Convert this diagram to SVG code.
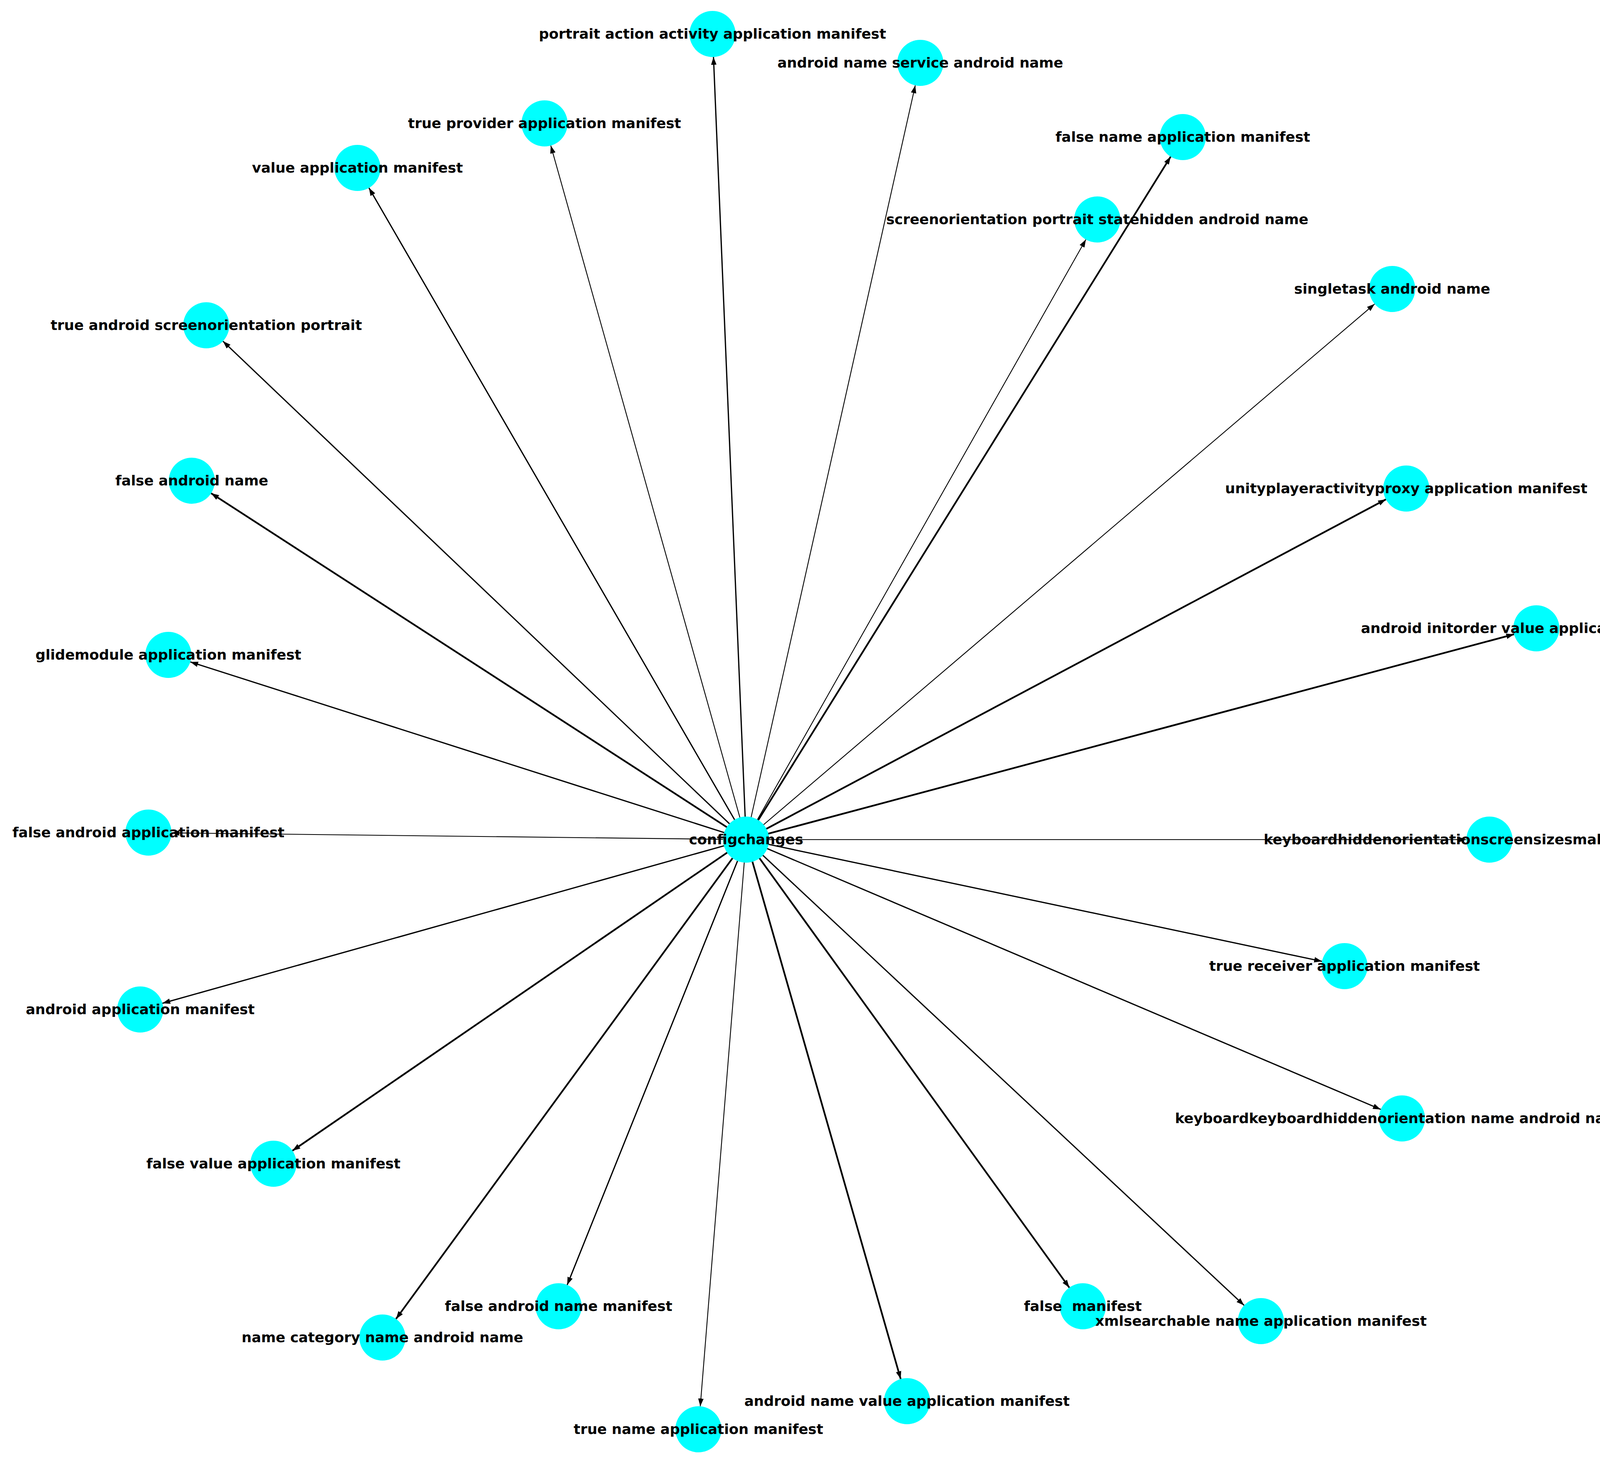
<svg xmlns="http://www.w3.org/2000/svg" width="4336" height="3754" viewBox="0 0 4336 3754">
<style>
.n{fill:#00ffff}
.t{font-family:"DejaVu Sans","Liberation Sans",sans-serif;font-weight:bold;font-size:36px;fill:#000;text-anchor:middle}
.s{text-anchor:start}
.e{stroke:#000;fill:none;marker-end:url(#ah)}
.w1{stroke-width:2.2}
.w2{stroke-width:3.2}
.w3{stroke-width:4.4}
</style>
<defs>
<marker id="ah" markerUnits="userSpaceOnUse" markerWidth="20" markerHeight="14" viewBox="0 0 20 14" refX="20" refY="7" orient="auto">
<path d="M0,0 L20,7 L0,14 Z" fill="#000"/>
</marker>
</defs>
<rect width="4336" height="3754" fill="#fff"/>
<g id="edges">
<line class="e w2" x1="1910" y1="2150" x2="1826.5" y2="145.9"/>
<line class="e w1" x1="1910" y1="2150" x2="2343.1" y2="218.6"/>
<line class="e w1" x1="1910" y1="2150" x2="1410.0" y2="372.8"/>
<line class="e w3" x1="1910" y1="2150" x2="2996.9" y2="401.1"/>
<line class="e w2" x1="1910" y1="2150" x2="944.5" y2="481.1"/>
<line class="e w1" x1="1910" y1="2150" x2="2779.9" y2="613.3"/>
<line class="e w1" x1="1910" y1="2150" x2="3519.1" y2="778.3"/>
<line class="e w2" x1="1910" y1="2150" x2="570.7" y2="873.7"/>
<line class="e w3" x1="1910" y1="2150" x2="540.5" y2="1263.1"/>
<line class="e w3" x1="1910" y1="2150" x2="3547.9" y2="1278.7"/>
<line class="e w3" x1="1910" y1="2150" x2="3876.0" y2="1624.2"/>
<line class="e w2" x1="1910" y1="2150" x2="487.2" y2="1695.0"/>
<line class="e w1" x1="1910" y1="2150" x2="439.0" y2="2132.7"/>
<line class="e w1" x1="1910" y1="2150" x2="3754" y2="2150"/>
<line class="e w2" x1="1910" y1="2150" x2="3384.3" y2="2461.8"/>
<line class="e w2" x1="1910" y1="2150" x2="415.8" y2="2569.1"/>
<line class="e w2" x1="1910" y1="2150" x2="3534.7" y2="2840.9"/>
<line class="e w3" x1="1910" y1="2150" x2="748.7" y2="2946.6"/>
<line class="e w2" x1="1910" y1="2150" x2="1452.0" y2="3290.3"/>
<line class="e w3" x1="1910" y1="2150" x2="2737.5" y2="3297.2"/>
<line class="e w2" x1="1910" y1="2150" x2="3184.9" y2="3342.7"/>
<line class="e w3" x1="1910" y1="2150" x2="1013.8" y2="3377.4"/>
<line class="e w3" x1="1910" y1="2150" x2="2305.8" y2="3531.3"/>
<line class="e w1" x1="1910" y1="2150" x2="1792.7" y2="3601.2"/>
</g>
<g id="n0"><circle class="n" cx="1910" cy="2150" r="59"/><text class="t" x="1910" y="2162">configchanges</text></g>
<g id="n1"><circle class="n" cx="1824" cy="87" r="59"/><text class="t" x="1824" y="99">portrait action activity application manifest</text></g>
<g id="n2"><circle class="n" cx="2356" cy="161" r="59"/><text class="t" x="2356" y="173">android name service android name</text></g>
<g id="n3"><circle class="n" cx="1394" cy="316" r="59"/><text class="t" x="1394" y="328">true provider application manifest</text></g>
<g id="n4"><circle class="n" cx="3028" cy="351" r="59"/><text class="t" x="3028" y="363">false name application manifest</text></g>
<g id="n5"><circle class="n" cx="915" cy="430" r="59"/><text class="t" x="915" y="442">value application manifest</text></g>
<g id="n6"><circle class="n" cx="2809" cy="562" r="59"/><text class="t" x="2809" y="574">screenorientation portrait statehidden android name</text></g>
<g id="n7"><circle class="n" cx="3564" cy="740" r="59"/><text class="t" x="3564" y="752">singletask android name</text></g>
<g id="n8"><circle class="n" cx="528" cy="833" r="59"/><text class="t" x="528" y="845">true android screenorientation portrait</text></g>
<g id="n9"><circle class="n" cx="491" cy="1231" r="59"/><text class="t" x="491" y="1243">false android name</text></g>
<g id="n10"><circle class="n" cx="3600" cy="1251" r="59"/><text class="t" x="3600" y="1263">unityplayeractivityproxy application manifest</text></g>
<g id="n11"><circle class="n" cx="3933" cy="1609" r="59"/><text class="t s" x="3484" y="1621">android initorder value application mani</text></g>
<g id="n12"><circle class="n" cx="431" cy="1677" r="59"/><text class="t" x="431" y="1689">glidemodule application manifest</text></g>
<g id="n13"><circle class="n" cx="380" cy="2132" r="59"/><text class="t" x="380" y="2144">false android application manifest</text></g>
<g id="n14"><circle class="n" cx="3813" cy="2150" r="59"/><text class="t s" x="3235" y="2162">keyboardhiddenorientationscreensizesmallestscreen</text></g>
<g id="n15"><circle class="n" cx="3442" cy="2474" r="59"/><text class="t" x="3442" y="2486">true receiver application manifest</text></g>
<g id="n16"><circle class="n" cx="359" cy="2585" r="59"/><text class="t" x="359" y="2597">android application manifest</text></g>
<g id="n17"><circle class="n" cx="3589" cy="2864" r="59"/><text class="t" x="3589" y="2876">keyboardkeyboardhiddenorientation name android name</text></g>
<g id="n18"><circle class="n" cx="700" cy="2980" r="59"/><text class="t" x="700" y="2992">false value application manifest</text></g>
<g id="n19"><circle class="n" cx="1430" cy="3345" r="59"/><text class="t" x="1430" y="3357">false android name manifest</text></g>
<g id="n20"><circle class="n" cx="2772" cy="3345" r="59"/><text class="t" x="2772" y="3357" xml:space="preserve">false  manifest</text></g>
<g id="n21"><circle class="n" cx="3228" cy="3383" r="59"/><text class="t" x="3228" y="3395">xmlsearchable name application manifest</text></g>
<g id="n22"><circle class="n" cx="979" cy="3425" r="59"/><text class="t" x="979" y="3437">name category name android name</text></g>
<g id="n23"><circle class="n" cx="2322" cy="3588" r="59"/><text class="t" x="2322" y="3600">android name value application manifest</text></g>
<g id="n24"><circle class="n" cx="1788" cy="3660" r="59"/><text class="t" x="1788" y="3672">true name application manifest</text></g>
</svg>
